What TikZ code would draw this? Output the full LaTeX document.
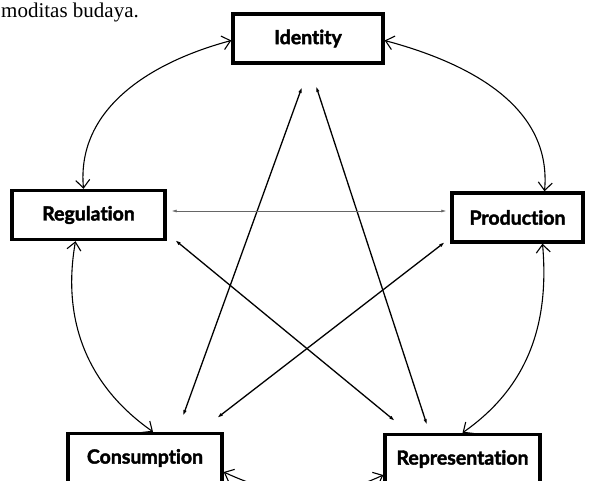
\documentclass[tikz,border=0pt]{standalone}
\usepackage{fontspec}
\setmainfont{Liberation Serif}
\newfontfamily\boxfont{Lato}[Ligatures={NoCommon},BoldFeatures={FakeBold=2}]
\usetikzlibrary{arrows.meta}
\begin{document}
\begin{tikzpicture}[x=1pt,y=1pt,
  box/.style={draw=black,line width=3.4pt,fill=white,minimum height=49pt,
    inner sep=0pt,font=\boxfont\bfseries\fontsize{19.5}{22}\selectfont},
  outer/.style={line width=1.1pt,{Straight Barb[length=8pt,width=14pt,line width=1.1pt]}-{Straight Barb[length=8pt,width=14pt,line width=1.1pt]}},
  inner/.style={line width=1.3pt,{Latex[length=6pt,width=3.5pt]}-{Latex[length=6pt,width=3.5pt]}},
  thin/.style={line width=0.7pt,draw=black!60,{Latex[length=5pt,width=3pt]}-{Latex[length=5pt,width=3pt]}}]
\useasboundingbox (0,0) rectangle (596,-481);
\clip (0,0) rectangle (596,-481);
\node[anchor=base west,font=\fontsize{21}{23}\selectfont,inner sep=0pt] (cap) at (1,-18) {moditas budaya.};
\node[box,minimum width=150pt] (iden) at (308,-38.5) {Identity};
\node[box,minimum width=153pt] (reg) at (88.5,-215) {Regulation};
\node[box,minimum width=131pt] (prod) at (517.5,-217.5) {Production};
\node[box,minimum width=154pt] (cons) at (145,-458) {Consumption};
\node[box,minimum width=155pt] (rep) at (462.5,-459) {Representation};
% outer ring
\draw[outer] ([yshift=-2]iden.west) to[out=195,in=95] ([xshift=-5]reg.north);
\draw[outer] ([yshift=-2]iden.east) to[out=-15,in=85] ([xshift=27]prod.north);
\draw[outer] ([xshift=-13]reg.south) to[out=-100,in=145] ([xshift=8]cons.north);
\draw[outer] ([xshift=25]prod.south) to[out=-85,in=35] ([xshift=0]rep.north);
\draw[outer] ([yshift=-14]cons.east) to[out=-25,in=-155] ([yshift=-16]rep.west);
% inner star
\coordinate (ci1) at (183,-416);
\coordinate (ci2) at (302,-87);
\coordinate (ri1) at (427,-425);
\coordinate (ri2) at (316,-86);
\coordinate (rr1) at (175,-240);
\coordinate (rr2) at (395,-421);
\coordinate (pc1) at (445,-242);
\coordinate (pc2) at (217,-418);
\draw[inner] (ci1) -- (ci2);
\draw[inner] (ri1) -- (ri2);
\draw[inner] (rr1) -- (rr2);
\draw[inner] (pc1) -- (pc2);
\draw[thin,shorten <=5pt,shorten >=4pt] ([yshift=4]reg.east) -- ([yshift=6.5]prod.west);
\end{tikzpicture}
\end{document}
